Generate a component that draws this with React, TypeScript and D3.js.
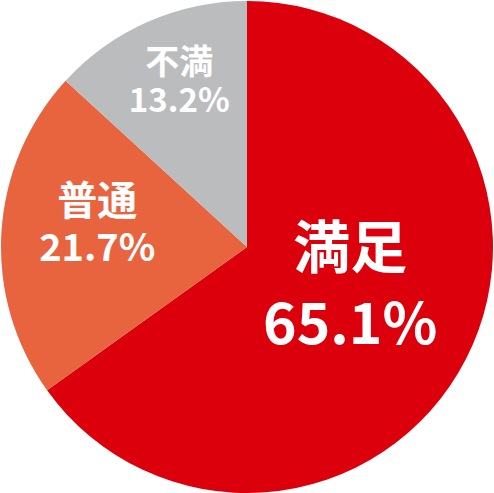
import * as React from "react"
import * as d3 from "d3"

// slices, clockwise from 12 o'clock
const categories = ["満足", "普通", "不満"]
const shares = [65.1, 21.7, 13.2]

const colors = ["#dc000c", "#e8643f", "#bbbcbe"]
// label placement per slice (radius of label anchor, vertical nudge, font sizes, line gap)
const labelRadius = [116, 150, 168]
const labelDy = [6, 0, 0]
const nameSize = [57, 40, 34]
const valueSize = [57, 38, 33]
const lineGap = [76, 46, 38]

const W = 494
const H = 493

export default function App(): React.JSX.Element {
  const cx = 247
  const cy = 247
  const r = 246

  const pie = d3
    .pie<number>()
    .sort(null)
    .value((d) => d)
  const arcs = pie(shares)

  const arc = d3.arc<d3.PieArcDatum<number>>().innerRadius(0).outerRadius(r)

  return (
    <svg
      width={W}
      height={H}
      style={{ position: "absolute", left: 0, top: 0, background: "#fff" }}
    >
      <g transform={`translate(${cx},${cy})`}>
        {arcs.map((a, i) => (
          <path key={categories[i]} d={arc(a) || ""} fill={colors[i]} />
        ))}
        {arcs.map((a, i) => {
          const mid = (a.startAngle + a.endAngle) / 2
          const x = Math.sin(mid) * labelRadius[i]
          const y = -Math.cos(mid) * labelRadius[i] + labelDy[i]
          return (
            <g
              key={"l" + i}
              fill="#fff"
              fontFamily="'Noto Sans CJK JP', 'Noto Sans', sans-serif"
              fontWeight={700}
              textAnchor="middle"
            >
              <text x={x} y={y - lineGap[i] / 2} fontSize={nameSize[i]}>
                {categories[i]}
              </text>
              <text x={x} y={y + lineGap[i] / 2} fontSize={valueSize[i]}>
                {shares[i].toFixed(1)}%
              </text>
            </g>
          )
        })}
      </g>
    </svg>
  )
}
